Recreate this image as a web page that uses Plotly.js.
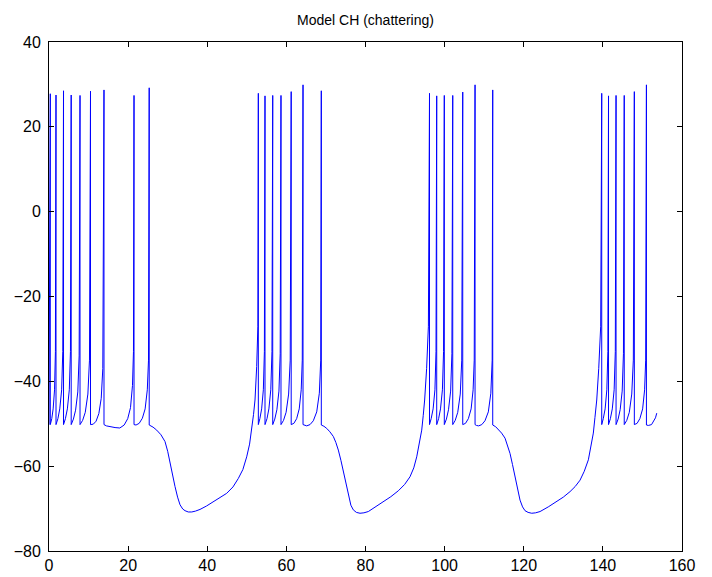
<!DOCTYPE html>
<html>
<head>
<meta charset="utf-8">
<script src="https://cdn.plot.ly/plotly-3.0.1.min.js"></script>
<style>html,body{margin:0;padding:0;background:#fff;}#chart{width:712px;height:577px;}</style>
</head>
<body>
<div id="chart"></div>
<script>
// Spike times (ms) and peak voltages (mV)
const spikeTimes = [0.33, 1.77, 3.67, 5.61, 7.84, 10.49, 13.9, 21.49, 25.33,
  52.91, 54.6, 56.55, 58.64, 61.22, 64.21, 68.83,
  96.18, 98.0, 99.92, 102.05, 104.58, 107.69, 112.16,
  139.71, 141.43, 143.33, 145.4, 147.95, 151.01];
const spikePeaks = [27.8, 27.5, 28.5, 27.5, 27.4, 28.4, 28.7, 27.4, 29.2,
  27.9, 27.3, 27.4, 27.4, 28.3, 29.9, 28.5,
  27.9, 27.3, 27.4, 27.4, 28.2, 29.9, 28.7,
  27.9, 27.3, 27.4, 27.4, 28.3, 29.9];

// Sub-threshold trace [t, v] for each burst and the pause after it
const burst1Trace = [[0,-50.2],[0.33,-50.2],[0.7,-48.8],[1.05,-46.5],[1.4,-42],[1.62,-33],
  [1.77,-50.2],[2.25,-48.8],[2.72,-46.5],[3.2,-42],[3.48,-33],
  [3.67,-50.2],[4.15,-48.8],[4.64,-46.5],[5.13,-42],[5.42,-33],
  [5.61,-50.2],[6.17,-48.9],[6.72,-46.8],[7.28,-42.5],[7.62,-34],
  [7.84,-50.2],[8.5,-49.2],[9.17,-47.3],[9.83,-43],[10.23,-35],
  [10.49,-50.2],[11.2,-50.1],[11.9,-49.4],[12.6,-47.6],[13.2,-44],[13.6,-37],
  [13.9,-50.2],[14.5,-50.5],[15.5,-50.7],[16.7,-50.9],[17.9,-51.0],[19.0,-50.3],[19.9,-48.8],[20.6,-46.2],[21.1,-41],[21.35,-33],
  [21.49,-50.2],[22.0,-50.3],[22.8,-49.9],[23.6,-48.7],[24.3,-46.5],[24.85,-42],[25.15,-35],
  [25.33,-50.3],[26.3,-50.8],[27.22,-51.5],[28.3,-52.6],[29.32,-54.2],[30.0,-56.5],[30.59,-59.3],[31.2,-62.0],
  [31.85,-64.8],[32.5,-67.3],[33.12,-69.1],[33.8,-70.1],[34.38,-70.5],[35.2,-70.8],[36.08,-70.8],[37.0,-70.6],
  [38.17,-70.2],[39.8,-69.4],[41.53,-68.4],[43.2,-67.4],[44.92,-66.4],[46.5,-64.9],[47.85,-62.9],[49.0,-60.8],
  [49.97,-57.8],[50.7,-54.8],[51.24,-51.5],[51.7,-47.8],[52.07,-44.4],[52.5,-36.5],[52.8,-27]];

const burst2Trace = [[52.91,-50.2],[53.3,-48.8],[53.75,-46.5],[54.18,-42],[54.44,-33],
  [54.6,-50.2],[55.1,-48.8],[55.58,-46.5],[56.06,-42],[56.36,-33],
  [56.55,-50.2],[57.07,-48.9],[57.6,-46.7],[58.12,-42.3],[58.44,-33.5],
  [58.64,-50.2],[59.28,-49.2],[59.93,-47.3],[60.57,-43],[60.97,-35],
  [61.22,-50.2],[61.9,-49.9],[62.6,-48.8],[63.25,-46.5],[63.75,-42],[64.02,-35],
  [64.21,-50.2],[64.6,-50.4],[65.14,-50.5],[65.98,-50.2],[66.81,-49.3],[67.67,-47.2],[68.33,-42.8],[68.68,-35],
  [68.83,-50.3],[69.5,-50.6],[70.2,-51.1],[71.0,-51.9],[71.87,-53.0],[72.5,-54.4],[73.13,-56.2],[73.8,-58.7],
  [74.39,-61.3],[75.0,-64.3],[75.66,-67.2],[76.3,-69.2],[76.92,-70.3],[77.7,-70.9],[78.61,-71.1],[79.6,-71.0],
  [80.71,-70.7],[82.6,-69.6],[84.5,-68.4],[86.4,-67.2],[88.3,-65.8],[89.9,-64.3],[91.25,-62.5],[92.2,-60.4],
  [92.95,-57.8],[93.6,-54.8],[94.21,-51.5],[94.6,-48],[94.95,-44.4],[95.45,-37],[95.9,-27]];

const burst3Trace = [[96.18,-50.2],[96.6,-48.8],[97.09,-46.5],[97.55,-42],[97.82,-33],
  [98.0,-50.2],[98.48,-48.8],[98.96,-46.5],[99.44,-42],[99.73,-33],
  [99.92,-50.2],[100.45,-48.9],[100.98,-46.7],[101.52,-42.3],[101.84,-33.5],
  [102.05,-50.2],[102.68,-49.2],[103.32,-47.3],[103.95,-43],[104.33,-35],
  [104.58,-50.2],[105.28,-49.9],[106.0,-48.8],[106.7,-46.5],[107.2,-42],[107.48,-35],
  [107.69,-50.2],[108.05,-50.4],[108.6,-50.5],[109.4,-50.2],[110.2,-49.3],[111.05,-47.2],[111.68,-42.8],[112.02,-35],
  [112.16,-50.3],[112.9,-50.7],[113.58,-51.3],[114.4,-52.2],[115.27,-53.4],[115.9,-55.0],[116.53,-57.0],[117.15,-59.6],
  [117.8,-62.5],[118.4,-65.4],[119.06,-68.0],[119.7,-69.6],[120.32,-70.5],[121.1,-70.9],[122.02,-71.1],[123.0,-71.0],
  [124.12,-70.7],[126.2,-69.6],[128.34,-68.4],[130.0,-67.3],[131.7,-66.0],[133.0,-64.8],[134.23,-63.3],[135.3,-61.2],
  [136.33,-58.5],[137.0,-55.5],[137.59,-52.2],[138.0,-48.5],[138.45,-44.4],[138.95,-37],[139.45,-27]];

const burst4Trace = [[139.71,-50.2],[140.1,-48.8],[140.57,-46.5],[141.0,-42],[141.26,-33],
  [141.43,-50.2],[141.9,-48.8],[142.38,-46.5],[142.85,-42],[143.14,-33],
  [143.33,-50.2],[143.85,-48.9],[144.37,-46.7],[144.88,-42.3],[145.2,-33.5],
  [145.4,-50.2],[146.04,-49.2],[146.68,-47.3],[147.3,-43],[147.7,-35],
  [147.95,-50.2],[148.65,-49.9],[149.35,-48.8],[150.05,-46.5],[150.55,-42],[150.82,-35],
  [151.01,-50.3],[151.5,-50.4],[152.3,-50.2],[152.9,-49.4],[153.3,-48.6],[153.62,-47.5]];

// Merge: each spike peak is placed just before the reset point at the same time
const sub = burst1Trace.concat(burst2Trace, burst3Trace, burst4Trace);
const xs = [], ys = [];
let k = 0;
for (let i = 0; i < spikeTimes.length; i++) {
  while (k < sub.length && sub[k][0] < spikeTimes[i]) { xs.push(sub[k][0]); ys.push(sub[k][1]); k++; }
  xs.push(spikeTimes[i]); ys.push(spikePeaks[i]);
}
while (k < sub.length) { xs.push(sub[k][0]); ys.push(sub[k][1]); k++; }

const font = 'Liberation Sans, Arial, Helvetica, sans-serif';
const axisCommon = {
  ticks: 'inside', ticklen: 5, tickwidth: 1, tickcolor: 'black',
  mirror: 'allticks', showline: true, linecolor: 'black', linewidth: 1,
  showgrid: false, zeroline: false,
  tickfont: {family: font, size: 16, color: 'black'}
};

Plotly.newPlot('chart', [{
  x: xs, y: ys, type: 'scatter', mode: 'lines',
  line: {color: '#0000ff', width: 1}, hoverinfo: 'skip'
}], {
  width: 712, height: 577,
  margin: {l: 49, r: 30, t: 42, b: 26},
  paper_bgcolor: 'white', plot_bgcolor: 'white',
  showlegend: false,
  title: {text: 'Model CH (chattering)', font: {family: font, size: 14, color: 'black'},
          xref: 'paper', x: 0.5, xanchor: 'center', yref: 'container', y: 0.965, yanchor: 'middle'},
  xaxis: Object.assign({range: [0, 160], tick0: 0, dtick: 20, ticklabelstandoff: 0}, axisCommon),
  yaxis: Object.assign({range: [-80, 40], tick0: -80, dtick: 20, ticklabelstandoff: 4}, axisCommon)
}, {staticPlot: true, displayModeBar: false});
</script>
</body>
</html>
